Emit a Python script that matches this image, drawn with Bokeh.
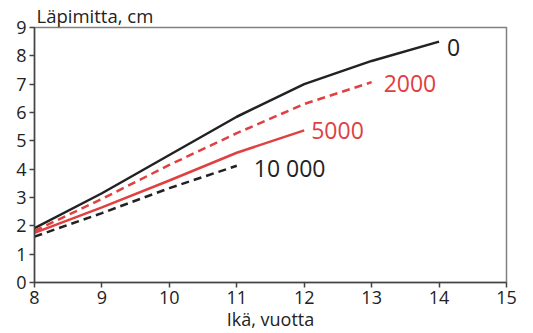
from bokeh.plotting import figure
from bokeh.models import Range1d, FixedTicker, Label
from bokeh.embed import file_html
from bokeh.resources import INLINE

# Data
age_0 = [8, 9, 10, 11, 12, 13, 14]
dia_0 = [1.92, 3.15, 4.5, 5.85, 7.0, 7.82, 8.5]
age_2000 = [8, 9, 10, 11, 12, 13]
dia_2000 = [1.82, 2.95, 4.15, 5.27, 6.3, 7.07]
age_5000 = [8, 9, 10, 11, 12]
dia_5000 = [1.75, 2.65, 3.6, 4.58, 5.37]
age_10000 = [8, 9, 10, 11]
dia_10000 = [1.62, 2.45, 3.33, 4.12]
series_labels = ["0", "2000", "5000", "10 000"]
x_ticks = [8, 9, 10, 11, 12, 13, 14, 15]
y_ticks = [0, 1, 2, 3, 4, 5, 6, 7, 8, 9]
x_title = "Ikä, vuotta"
y_title = "Läpimitta, cm"

FONT = "Open Sans"
RED = "#e0403f"
BLACK = "#222222"

p = figure(width=533, height=333, output_backend="svg", toolbar_location=None,
           x_range=Range1d(8, 15), y_range=Range1d(0, 9),
           min_border_left=34, min_border_right=27, min_border_top=25, min_border_bottom=50)
p.background_fill_color = "white"
p.border_fill_color = "white"
p.grid.visible = False
p.outline_line_color = "#808080"
p.outline_line_width = 1.5

p.title.text = y_title
p.title.align = "left"
p.title.text_font = FONT
p.title.text_font_size = "18.5px"
p.title.text_font_style = "normal"
p.title.text_color = BLACK
p.title.standoff = 0
p.title.offset = 2

for ax in (p.xaxis[0], p.yaxis[0]):
    ax.axis_line_color = "#444444"
    ax.axis_line_width = 1.5
    ax.major_tick_line_color = "#444444"
    ax.major_tick_line_width = 1.5
    ax.major_tick_out = 5
    ax.major_tick_in = 0
    ax.minor_tick_line_color = None
    ax.major_label_text_font = FONT
    ax.major_label_text_font_size = "18px"
    ax.major_label_text_color = BLACK

p.xaxis.ticker = FixedTicker(ticks=x_ticks)
p.yaxis.ticker = FixedTicker(ticks=y_ticks)
p.xaxis.major_label_standoff = 3
p.yaxis.major_label_standoff = 3
p.xaxis.axis_label = x_title
p.xaxis.axis_label_text_font = FONT
p.xaxis.axis_label_text_font_style = "normal"
p.xaxis.axis_label_text_font_size = "18px"
p.xaxis.axis_label_text_color = BLACK
p.xaxis.axis_label_standoff = 0

p.line(age_0, dia_0, line_color=BLACK, line_width=2.5)
p.line(age_2000, dia_2000, line_color=RED, line_width=2.5, line_dash="8 5")
p.line(age_5000, dia_5000, line_color=RED, line_width=2.5)
p.line(age_10000, dia_10000, line_color=BLACK, line_width=2.5, line_dash="8 5")

ends = [
    (age_0[-1], dia_0[-1], series_labels[0], BLACK, 8, 6),
    (age_2000[-1], dia_2000[-1], series_labels[1], RED, 12, 1),
    (age_5000[-1], dia_5000[-1], series_labels[2], RED, 7, 0),
    (age_10000[-1], dia_10000[-1], series_labels[3], BLACK, 17, 2),
]
for x, y, t, c, xo, yo in ends:
    p.add_layout(Label(x=x, y=y, text=t, text_color=c, x_offset=xo, y_offset=-yo,
                       text_font=FONT, text_font_size="23px", text_baseline="middle",
                       text_align="left"))

open("out.html", "w").write(file_html(p, INLINE))
